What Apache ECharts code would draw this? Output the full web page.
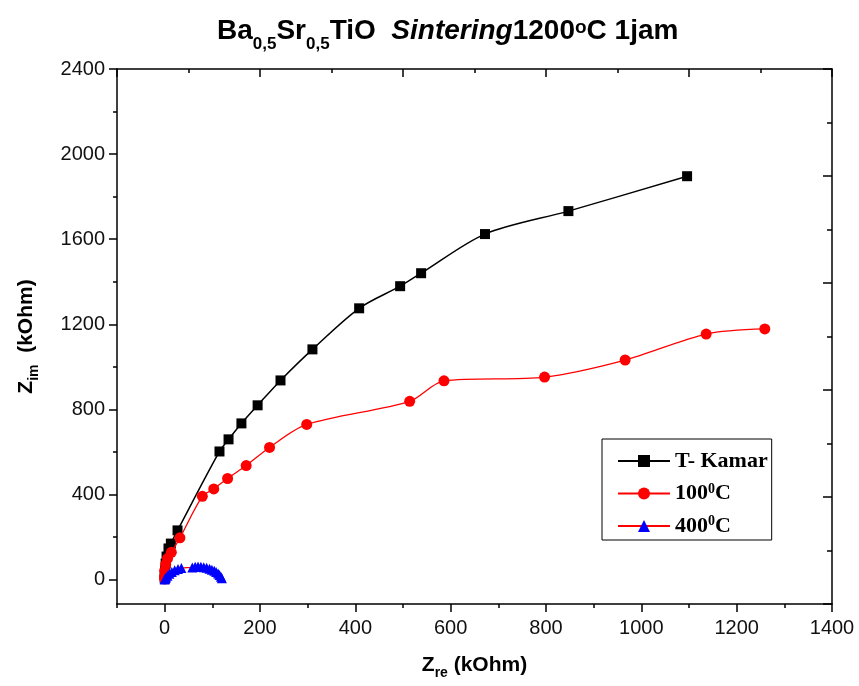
<!DOCTYPE html>
<html>
<head>
<meta charset="utf-8">
<script src="https://cdn.jsdelivr.net/npm/echarts@6/dist/echarts.min.js"></script>
<style>html,body{margin:0;padding:0;background:#fff;}#c{width:859px;height:686px;}</style>
</head>
<body>
<div id="c"></div>
<script>
// ---- data (Z_re, Z_im) in kOhm ----
const tKamar = [[0,5],[0,20],[1,42],[2,75],[4,108],[8,146],[13,169],[27,231],[115,602],[134,659],[161,734],[195,819],[243,936],[310,1082],[408,1275],[494,1379],[538,1440],[672,1624],[847,1732],[1096,1896]];
const t100 = [[0,2],[0,14],[0,42],[2,71],[6,99],[14,128],[32,196],[79,391],[103,426],[132,475],[171,536],[220,621],[298,729],[514,838],[586,934],[797,952],[966,1032],[1136,1154],[1259,1178]];
const t400 = [[0,0],[1,4],[3,10],[6,18],[10,27],[15,36],[21,44],[28,50],[35,54],[58,57],[64,60],[70,61],[76,60],[82,58],[88,55],[94,51],[99,46],[104,41],[108,35],[112,28],[115,21],[118,13],[120,6]];
const seriesNames = ['T- Kamar', '100{sup|0}C', '400{sup|0}C'];
// ---- ticks ----
const xLabels = [0,200,400,600,800,1000,1200,1400];
const xMinor = [-100,100,300,500,700,900,1100,1300];
const yLabels = [0,400,800,1200,1600,2000,2400];
const yMinor = [200,600,1000,1400,1800,2200];
const topMajor = [0,2,4,6,8,10];
const topMinor = [1,3,5,7,9];
const rightMajor = [0,2,4,6,8,10];
const rightMinor = [1,3,5,7,9];

const AX = {color:'#000', width:1.5};
const sans = 'Liberation Sans, Arial, sans-serif';
const plain = function(v){return String(v);};
function minorAxis(pos, min, max, vals, len, inside){
  return {type:'value', position:pos, min:min, max:max,
    axisLine:{show:false,onZero:false},
    axisTick:{show:true,inside:inside,length:len,customValues:vals,lineStyle:AX},
    axisLabel:{show:false}, splitLine:{show:false}};
}
const chart = echarts.init(document.getElementById('c'));
chart.setOption({
  backgroundColor:'#fff',
  animation:false,
  title:{
    left:212, top:4,
    text:'{n|Ba}{sub|0,5}{n|Sr}{sub|0,5}{n|TiO  }{it|Sintering}{n|1200}{sup|o}{n|C 1jam}',
    textStyle:{
      rich:{
        n:{fontFamily:sans,fontWeight:'bold',fontSize:28,color:'#000',lineHeight:44,verticalAlign:'middle'},
        it:{fontFamily:sans,fontWeight:'bold',fontStyle:'italic',fontSize:28,color:'#000',lineHeight:44,verticalAlign:'middle'},
        sub:{fontFamily:sans,fontWeight:'bold',fontSize:17,color:'#000',lineHeight:44,verticalAlign:'bottom'},
        sup:{fontFamily:sans,fontWeight:'bold',fontSize:19,color:'#000',lineHeight:44,verticalAlign:'top',padding:[9,0,0,0]}
      }
    }
  },
  legend:{
    orient:'vertical', left:602, top:439,
    padding:[11,4,3,15], itemGap:10, itemWidth:52, itemHeight:15,
    borderColor:'#000', borderWidth:1, backgroundColor:'#fff',
    data:['A','B','C'],
    formatter:function(n){return seriesNames[['A','B','C'].indexOf(n)];},
    textStyle:{fontFamily:'Liberation Serif, Times New Roman, serif',fontWeight:'bold',fontSize:22,color:'#000',
      rich:{sup:{fontFamily:'Liberation Serif, serif',fontWeight:'bold',fontSize:14,color:'#000',verticalAlign:'top',lineHeight:23}}}
  },
  grid:{left:117, right:27, top:69, bottom:82, containLabel:false},
  xAxis:[
    {type:'value', position:'bottom', min:-100, max:1400,
     name:'{b|Z}{sub|re}{b| (kOhm)}', nameLocation:'middle', nameGap:46,
     nameTextStyle:{rich:{b:{fontFamily:sans,fontWeight:'bold',fontSize:21,color:'#000',lineHeight:30,verticalAlign:'middle'},
                          sub:{fontFamily:sans,fontWeight:'bold',fontSize:14,color:'#000',lineHeight:30,verticalAlign:'bottom'}}},
     axisLine:{show:true,onZero:false,lineStyle:AX},
     axisTick:{show:true,inside:false,length:8,customValues:xLabels,lineStyle:AX},
     axisLabel:{show:true,customValues:xLabels,formatter:plain,margin:14,fontFamily:sans,fontSize:20,color:'#111'},
     splitLine:{show:false}},
    minorAxis('bottom', -100, 1400, xMinor, 4, false),
    {type:'value', position:'top', min:0, max:10,
     axisLine:{show:true,onZero:false,lineStyle:AX},
     axisTick:{show:true,inside:true,length:8,customValues:topMajor,lineStyle:AX},
     axisLabel:{show:false}, splitLine:{show:false}},
    minorAxis('top', 0, 10, topMinor, 4, true)
  ],
  yAxis:[
    {type:'value', position:'left', min:-115, max:2400,
     name:'{b|Z}{sub|im}{b|  (kOhm)}', nameLocation:'middle', nameGap:76, nameRotate:90,
     nameTextStyle:{rich:{b:{fontFamily:sans,fontWeight:'bold',fontSize:21,color:'#000',lineHeight:30,verticalAlign:'middle'},
                          sub:{fontFamily:sans,fontWeight:'bold',fontSize:14,color:'#000',lineHeight:30,verticalAlign:'bottom'}}},
     axisLine:{show:true,onZero:false,lineStyle:AX},
     axisTick:{show:true,inside:false,length:8,customValues:yLabels,lineStyle:AX},
     axisLabel:{show:true,customValues:yLabels,formatter:plain,margin:12,fontFamily:sans,fontSize:20,color:'#111'},
     splitLine:{show:false}},
    minorAxis('left', -115, 2400, yMinor, 4, false),
    {type:'value', position:'right', min:0, max:10,
     axisLine:{show:true,onZero:false,lineStyle:AX},
     axisTick:{show:true,inside:true,length:9,customValues:rightMajor,lineStyle:AX},
     axisLabel:{show:false}, splitLine:{show:false}},
    minorAxis('right', 0, 10, rightMinor, 5, true)
  ],
  series:[
    {name:'A', type:'line', xAxisIndex:0, yAxisIndex:0, data:tKamar, smooth:0.3,
     symbol:'rect', symbolSize:10, lineStyle:{color:'#000',width:1.5}, itemStyle:{color:'#000'}, z:3},
    {name:'B', type:'line', xAxisIndex:0, yAxisIndex:0, data:t100, smooth:0.3,
     symbol:'circle', symbolSize:11, lineStyle:{color:'#ff0000',width:1.3}, itemStyle:{color:'#ff0000'}, z:4},
    {name:'C', type:'line', xAxisIndex:0, yAxisIndex:0, data:t400, smooth:0.3,
     symbol:'triangle', symbolSize:10, lineStyle:{color:'#ff0000',width:1.3}, itemStyle:{color:'#0000ff'}, z:5}
  ]
});
</script>
</body>
</html>
